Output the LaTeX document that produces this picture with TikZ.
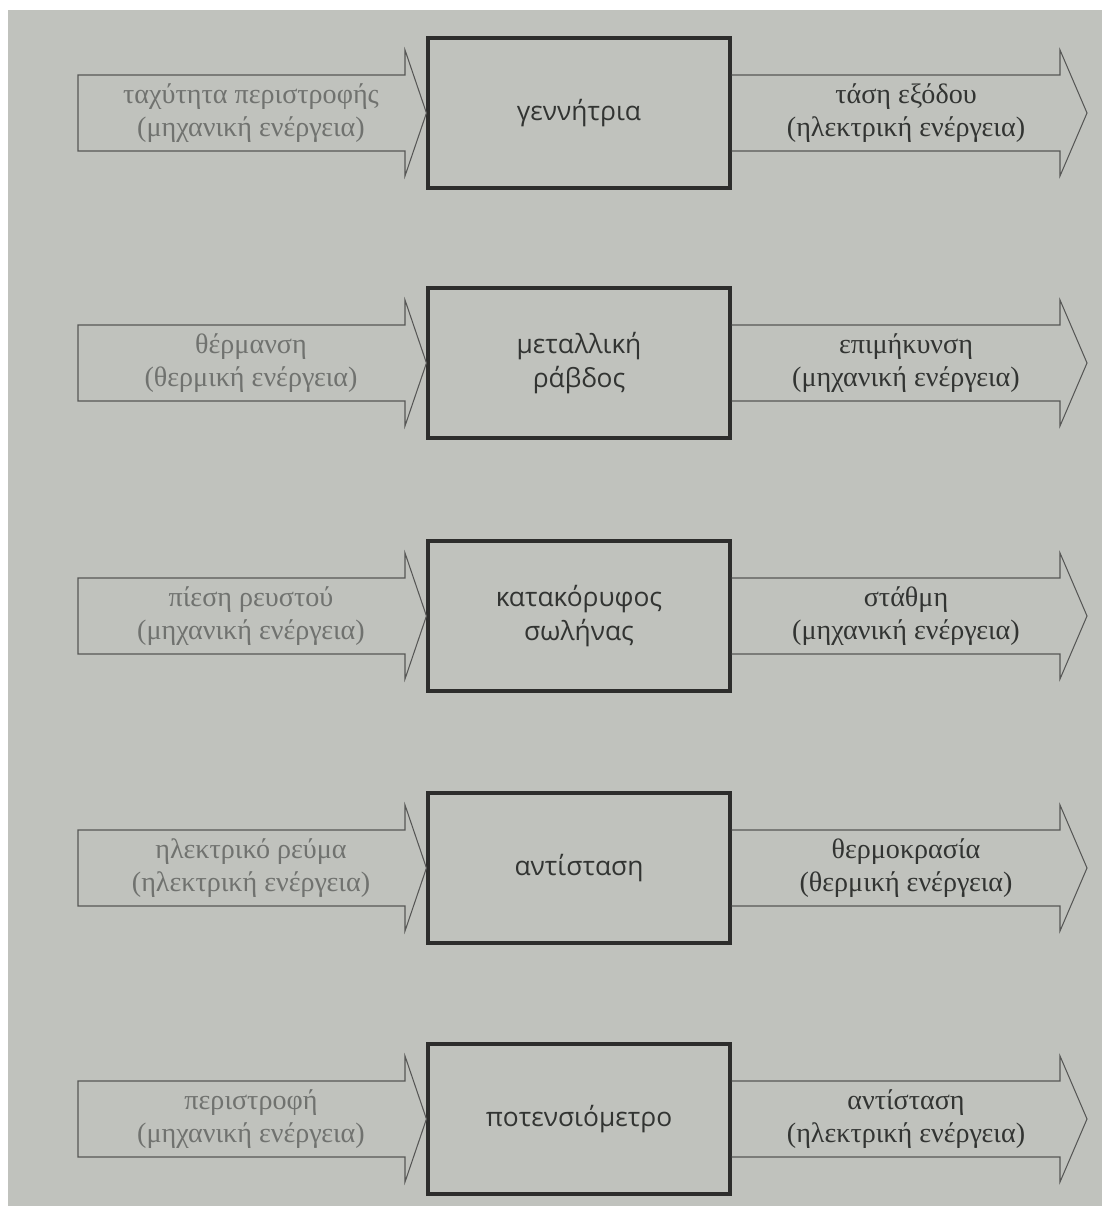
\documentclass[tikz,border=0pt]{standalone}
\usepackage{fontspec}
\setmainfont{Liberation Serif}
\newfontfamily\flowfont{Liberation Serif}
\newfontfamily\boxfont{Open Sans}
\usepackage{xcolor}
\usetikzlibrary{calc}

\definecolor{paper}{RGB}{192,194,189}
\definecolor{inktext}{RGB}{112,114,111}
\definecolor{outtext}{RGB}{50,52,50}
\definecolor{frame}{RGB}{45,45,44}

\tikzset{
  device/.style={draw=frame, line width=1.8pt, minimum width=6.04cm, minimum height=3cm,
    align=center, font=\boxfont\fontsize{15}{19}\selectfont, text=outtext},
  flow/.style={draw=frame!80, line width=0.6pt},
  intext/.style={align=center, font=\flowfont\fontsize{16}{19}\selectfont, text=inktext},
  outtext/.style={align=center, font=\flowfont\fontsize{16}{19}\selectfont, text=outtext}
}

\begin{document}
\begin{tikzpicture}[x=0.02cm, y=-0.02cm]
\fill[white] (0,0) rectangle (1102,1206);
\fill[paper] (8,10) rectangle (1102,1206);

\foreach \i/\y/\dev/\ina/\inb/\outa/\outb in {
  1/113/{γεννήτρια}/{ταχύτητα περιστροφής}/{(μηχανική ενέργεια)}/{τάση εξόδου}/{(ηλεκτρική ενέργεια)},
  2/363/{μεταλλική\\ράβδος}/{θέρμανση}/{(θερμική ενέργεια)}/{επιμήκυνση}/{(μηχανική ενέργεια)},
  3/616/{κατακόρυφος\\σωλήνας}/{πίεση ρευστού}/{(μηχανική ενέργεια)}/{στάθμη}/{(μηχανική ενέργεια)},
  4/868/{αντίσταση}/{ηλεκτρικό ρεύμα}/{(ηλεκτρική ενέργεια)}/{θερμοκρασία}/{(θερμική ενέργεια)},
  5/1119/{ποτενσιόμετρο}/{περιστροφή}/{(μηχανική ενέργεια)}/{αντίσταση}/{(ηλεκτρική ενέργεια)}}
{
  \node[device] (dev\i) at (579,\y) {\dev};
  % input arrow, tip on the box
  \draw[flow] (78,\y-38) -- (405,\y-38) -- (405,\y-63) -- (dev\i.west)
    -- (405,\y+63) -- (405,\y+38) -- (78,\y+38) -- cycle;
  % output arrow, starting at the box
  \draw[flow] ($(dev\i.east)+(0,-38)$) -- (1060,\y-38) -- (1060,\y-63) -- (1087,\y)
    -- (1060,\y+63) -- (1060,\y+38) -- ($(dev\i.east)+(0,38)$);
  \node[intext] (in\i) at (251,\y) {\ina\\\inb};
  \node[outtext] (out\i) at (906,\y) {\outa\\\outb};
}
\end{tikzpicture}
\end{document}
